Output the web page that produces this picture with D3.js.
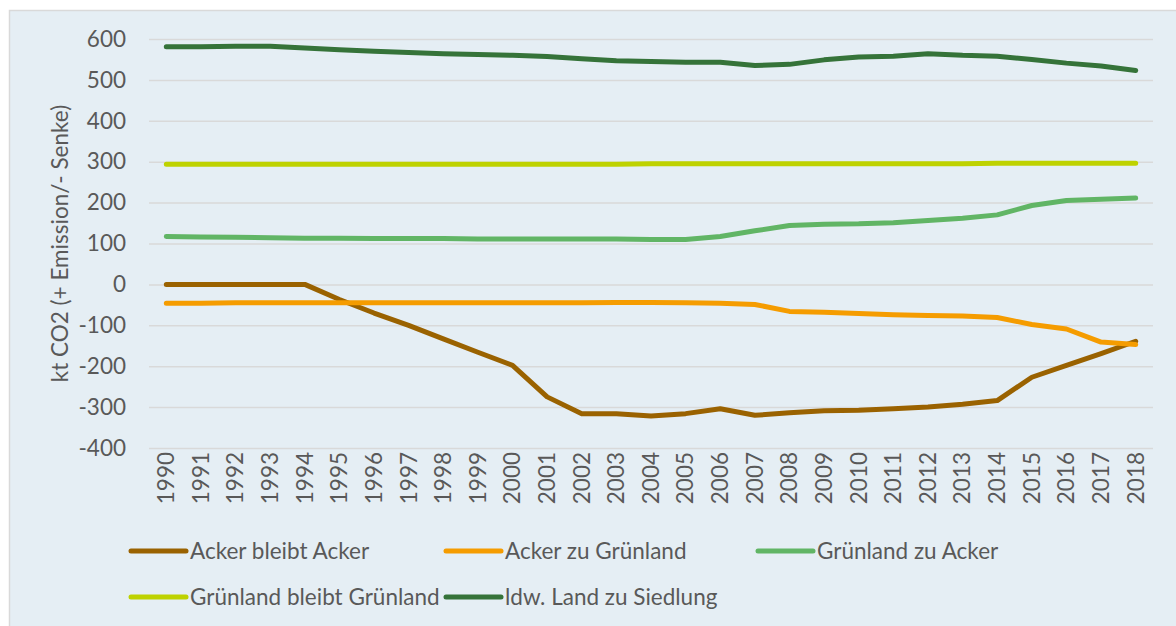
<!DOCTYPE html>
<html>
<head>
<meta charset="utf-8">
<script src="https://cdn.jsdelivr.net/npm/d3@7"></script>
<style>
  body { margin: 0; background: #fff; }
  text { font-family: Lato, "Open Sans", sans-serif; fill: #595959; }
</style>
</head>
<body>
<div id="chart"></div>
<script>
// years on the x axis
var years = [1990, 1991, 1992, 1993, 1994, 1995, 1996, 1997, 1998, 1999,
             2000, 2001, 2002, 2003, 2004, 2005, 2006, 2007, 2008, 2009,
             2010, 2011, 2012, 2013, 2014, 2015, 2016, 2017, 2018];

var yTicks = [-400, -300, -200, -100, 0, 100, 200, 300, 400, 500, 600];

// kt CO2 per series
var ackerBleibtAcker = [0, 0, 0, 0, 0, -37, -70, -100, -133, -166,
                        -198, -275, -316, -316, -322, -316, -304, -320, -314, -309,
                        -308, -304, -300, -293, -284, -227, -198, -169, -139];
var ackerZuGruenland = [-46, -46, -45, -45, -45, -45, -45, -45, -45, -45,
                        -45, -45, -45, -44, -44, -45, -46, -49, -66, -68,
                        -71, -74, -76, -77, -81, -98, -109, -141, -147];
var gruenlandZuAcker = [117, 116, 115, 114, 113, 113, 112, 112, 112, 111,
                        111, 111, 111, 111, 110, 110, 117, 131, 144, 147,
                        148, 151, 156, 162, 170, 193, 205, 208, 211];
var gruenlandBleibt = [294, 294, 294, 294, 294, 294, 294, 294, 294, 294,
                       294, 294, 294, 294, 295, 295, 295, 295, 295, 295,
                       295, 295, 295, 295, 296, 296, 296, 296, 296];
var ldwZuSiedlung = [581, 581, 582, 582, 578, 574, 570, 567, 564, 562,
                     560, 557, 552, 547, 545, 543, 543, 535, 538, 549,
                     556, 558, 564, 560, 558, 550, 541, 534, 523];

var seriesNames = ["Acker bleibt Acker", "Acker zu Grünland", "Grünland zu Acker",
                   "Grünland bleibt Grünland", "ldw. Land zu Siedlung"];
var seriesColors = ["#9A6200", "#F59C00", "#61B565", "#BED200", "#357339"];
var seriesValues = [ackerBleibtAcker, ackerZuGruenland, gruenlandZuAcker, gruenlandBleibt, ldwZuSiedlung];

var width = 1176, height = 626;
var plotLeft = 149, plotRight = 1153, plotTop = 39, plotBottom = 448;
var fontSize = 22.5;

var svg = d3.select("#chart").append("svg")
    .attr("width", width)
    .attr("height", height);

// chart area with light border
svg.append("rect")
    .attr("x", 9.5).attr("y", 10.5)
    .attr("width", width + 10).attr("height", height)
    .attr("fill", "#E5EEF4")
    .attr("stroke", "#D9D9D9")
    .attr("stroke-width", 1.5);

var x = d3.scaleBand().domain(years).range([plotLeft, plotRight]);
var y = d3.scaleLinear().domain([-400, 600]).range([plotBottom, plotTop]);

// gridlines
svg.append("g")
    .attr("transform", "translate(" + plotLeft + ",0)")
    .call(d3.axisLeft(y).tickValues(yTicks).tickSize(-(plotRight - plotLeft)).tickFormat(""))
    .call(function (g) {
        g.select(".domain").remove();
        g.selectAll("line").attr("stroke", "#D9D9D9").attr("stroke-width", 1.5);
    });

// y axis labels (plain hyphen minus like the original)
svg.append("g")
    .attr("transform", "translate(" + plotLeft + ",0)")
    .call(d3.axisLeft(y).tickValues(yTicks).tickSize(0).tickPadding(23)
        .tickFormat(function (d) { return String(d); }))
    .call(function (g) {
        g.select(".domain").remove();
        g.selectAll("text").attr("font-size", fontSize).attr("fill", "#595959")
            .attr("font-family", "Lato, sans-serif");
    });

// x axis labels, rotated
svg.append("g")
    .attr("transform", "translate(0," + plotBottom + ")")
    .call(d3.axisBottom(x).tickSize(0).tickPadding(0))
    .call(function (g) {
        g.select(".domain").remove();
        g.selectAll("text")
            .attr("font-size", fontSize)
            .attr("fill", "#595959")
            .attr("font-family", "Lato, sans-serif")
            .attr("text-anchor", "end")
            .attr("dy", "0.35em")
            .attr("transform", "translate(0,4) rotate(-90)")
            .attr("x", 0).attr("y", 0);
    });

// y axis title
svg.append("text")
    .attr("transform", "translate(68," + ((plotTop + plotBottom) / 2) + ") rotate(-90)")
    .attr("text-anchor", "middle")
    .attr("font-size", fontSize)
    .text("kt CO2 (+ Emission/- Senke)");

// lines
var line = d3.line()
    .x(function (d, i) { return x(years[i]) + x.bandwidth() / 2; })
    .y(function (d) { return y(d); });

svg.append("g").selectAll("path")
    .data(seriesValues)
    .enter()
    .append("path")
    .attr("d", line)
    .attr("fill", "none")
    .attr("stroke", function (d, i) { return seriesColors[i]; })
    .attr("stroke-width", 5)
    .attr("stroke-linejoin", "round")
    .attr("stroke-linecap", "round");

// legend
var legendPos = [[131, 551], [446, 551], [758, 551], [131, 597], [446, 597]];
var legend = svg.append("g").selectAll("g")
    .data(seriesNames)
    .enter()
    .append("g")
    .attr("transform", function (d, i) { return "translate(" + legendPos[i][0] + "," + legendPos[i][1] + ")"; });

legend.append("line")
    .attr("x1", 0).attr("x2", 55)
    .attr("stroke", function (d, i) { return seriesColors[i]; })
    .attr("stroke-width", 5)
    .attr("stroke-linecap", "round");

legend.append("text")
    .attr("x", 59)
    .attr("dy", "0.35em")
    .attr("font-size", fontSize)
    .text(function (d) { return d; });
</script>
</body>
</html>
